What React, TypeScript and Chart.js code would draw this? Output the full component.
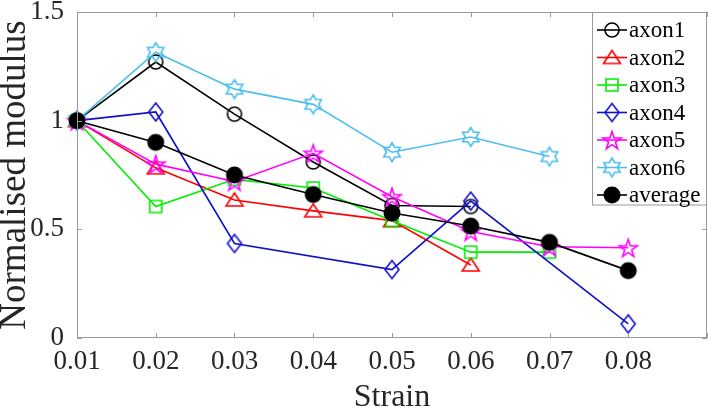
import React, { useEffect, useRef } from 'react';
import { Chart, registerables } from 'chart.js';
Chart.register(...registerables);

const strain = [0.01, 0.02, 0.03, 0.04, 0.05, 0.06, 0.07, 0.08];
const axon1 = [1.0, 1.27, 1.03, 0.81, 0.61, 0.605, null, null];
const axon2 = [1.0, 0.783, 0.635, 0.585, 0.54, 0.336, null, null];
const axon3 = [1.0, 0.605, 0.73, 0.69, 0.54, 0.395, 0.395, null];
const axon4 = [1.0, 1.04, 0.435, null, 0.315, 0.63, null, 0.065];
const axon5 = [1.0, 0.80, 0.72, 0.85, 0.65, 0.49, 0.42, 0.415];
const axon6 = [1.0, 1.315, 1.145, 1.075, 0.855, 0.925, 0.835, null];
const average = [1.0, 0.90, 0.75, 0.66, 0.575, 0.515, 0.44, 0.31];

const seriesNames = ['axon1', 'axon2', 'axon3', 'axon4', 'axon5', 'axon6', 'average'];
const seriesValues = [axon1, axon2, axon3, axon4, axon5, axon6, average];
const seriesColors = ['#000000', '#ff0000', '#00ee00', '#1010cc', '#ff00ff', '#4dbeee', '#000000'];
const seriesMarkers = ['circle', 'triangle', 'square', 'diamond', 'pentagram', 'hexagram', 'filled'];

const xMin = 0.01;
const xMax = 0.09;
const xStep = 0.01;
const xTickLabels = ['0.01', '0.02', '0.03', '0.04', '0.05', '0.06', '0.07', '0.08', ''];
const yMin = 0;
const yMax = 1.5;
const yStep = 0.5;
const yTickLabels = ['0', '0.5', '1', '1.5'];
const xTitle = 'Strain';
const yTitle = 'Normalised modulus';

const FONT = '"Liberation Serif", "Times New Roman", serif';
const AXIS_COLOR = '#9a9a9a';
const TEXT_COLOR = '#262626';

function makeMarker(kind: string, color: string): HTMLCanvasElement {
  const S = 26;
  const c = document.createElement('canvas');
  c.width = S;
  c.height = S;
  const g = c.getContext('2d')!;
  const m = S / 2;
  g.strokeStyle = color;
  g.fillStyle = color;
  g.lineWidth = 1.6;
  g.lineJoin = 'miter';
  g.beginPath();
  if (kind === 'circle') {
    g.arc(m, m, 7, 0, Math.PI * 2);
  } else if (kind === 'filled') {
    g.arc(m, m, 8.5, 0, Math.PI * 2);
  } else if (kind === 'triangle') {
    g.moveTo(m, m - 7);
    g.lineTo(m + 8.5, m + 6);
    g.lineTo(m - 8.5, m + 6);
    g.closePath();
  } else if (kind === 'square') {
    g.rect(m - 6, m - 6, 12, 12);
  } else if (kind === 'diamond') {
    g.moveTo(m, m - 9);
    g.lineTo(m + 7, m);
    g.lineTo(m, m + 9);
    g.lineTo(m - 7, m);
    g.closePath();
  } else if (kind === 'pentagram') {
    for (let i = 0; i < 10; i++) {
      const r = i % 2 ? 9.5 * 0.382 : 9.5;
      const a = -Math.PI / 2 + (i * Math.PI) / 5;
      const px = m + r * Math.cos(a);
      const py = m + 1 + r * Math.sin(a);
      if (i === 0) g.moveTo(px, py);
      else g.lineTo(px, py);
    }
    g.closePath();
  } else if (kind === 'hexagram') {
    for (let i = 0; i < 12; i++) {
      const r = i % 2 ? 9.5 * 0.577 : 9.5;
      const a = -Math.PI / 2 + (i * Math.PI) / 6;
      const px = m + r * Math.cos(a);
      const py = m + r * Math.sin(a);
      if (i === 0) g.moveTo(px, py);
      else g.lineTo(px, py);
    }
    g.closePath();
  }
  if (kind === 'filled') g.fill();
  else g.stroke();
  return c;
}

export default function App() {
  const ref = useRef<HTMLCanvasElement | null>(null);

  useEffect(() => {
    const canvas = ref.current;
    if (!canvas) return;
    const markers = seriesMarkers.map((k, i) => makeMarker(k, seriesColors[i]));

    const datasets = seriesNames.map((name, i) => ({
      label: name,
      data: strain
        .map((x, j) => ({ x, y: seriesValues[i][j] }))
        .filter((p) => p.y !== null),
      borderColor: seriesColors[i],
      backgroundColor: seriesColors[i],
      borderWidth: 1.6,
      pointStyle: markers[i],
      pointRadius: 5,
      showLine: true,
      clip: false as any,
      order: i === seriesNames.length - 1 ? 0 : seriesNames.length - 1 - i,
    }));

    const frameAndLegend = {
      id: 'frameAndLegend',
      afterDatasetsDraw(chart: any) {
        const { ctx, chartArea: a, scales } = chart;
        ctx.save();
        ctx.strokeStyle = AXIS_COLOR;
        ctx.lineWidth = 1;
        ctx.strokeRect(a.left + 0.5, a.top + 0.5, a.right - a.left - 1, a.bottom - a.top - 1);
        const tl = 5;
        ctx.beginPath();
        scales.x.ticks.forEach((t: any) => {
          const px = Math.round(scales.x.getPixelForValue(t.value)) + 0.5;
          ctx.moveTo(px, a.bottom);
          ctx.lineTo(px, a.bottom - tl);
          ctx.moveTo(px, a.top);
          ctx.lineTo(px, a.top + tl);
        });
        scales.y.ticks.forEach((t: any) => {
          const py = Math.round(scales.y.getPixelForValue(t.value)) + 0.5;
          ctx.moveTo(a.left, py);
          ctx.lineTo(a.left + tl, py);
          ctx.moveTo(a.right, py);
          ctx.lineTo(a.right - tl, py);
        });
        ctx.stroke();
        ctx.restore();
      },
      afterDraw(chart: any) {
        const { ctx, chartArea: a } = chart;
        const boxW = 115;
        const rowH = 27.5;
        const x0 = a.right - boxW;
        const y0 = a.top;
        const h = rowH * seriesNames.length;
        ctx.save();
        ctx.fillStyle = '#ffffff';
        ctx.fillRect(x0, y0, boxW, h);
        ctx.strokeStyle = AXIS_COLOR;
        ctx.lineWidth = 1;
        ctx.strokeRect(x0 + 0.5, y0 + 0.5, boxW - 1, h);
        ctx.font = `23px ${FONT}`;
        ctx.textBaseline = 'middle';
        ctx.textAlign = 'left';
        seriesNames.forEach((name, i) => {
          const cy = y0 + 18 + i * rowH;
          ctx.strokeStyle = seriesColors[i];
          ctx.lineWidth = 1.6;
          ctx.beginPath();
          ctx.moveTo(x0 + 5, cy);
          ctx.lineTo(x0 + 35, cy);
          ctx.stroke();
          const mk = markers[i];
          ctx.drawImage(mk, x0 + 20 - mk.width / 2, cy - mk.height / 2);
          ctx.fillStyle = '#000000';
          ctx.fillText(name, x0 + 37, cy + 1);
        });
        ctx.restore();
      },
    };

    const chart = new Chart(canvas, {
      type: 'scatter',
      data: { datasets: datasets as any },
      options: {
        responsive: false,
        animation: false,
        events: [],
        layout: { autoPadding: false, padding: { top: 0, left: 0, bottom: 0, right: 1 } },
        plugins: { legend: { display: false }, tooltip: { enabled: false } },
        scales: {
          x: {
            type: 'linear',
            min: xMin,
            max: xMax,
            grid: { display: false, drawTicks: false },
            border: { display: false },
            ticks: {
              stepSize: xStep,
              padding: 8,
              color: TEXT_COLOR,
              font: { family: FONT, size: 27 },
              maxRotation: 0,
              autoSkip: false,
              callback: (v: any, i: number) => xTickLabels[i] ?? '',
            },
            title: {
              display: true,
              text: xTitle,
              color: TEXT_COLOR,
              font: { family: FONT, size: 32, lineHeight: 1 },
              padding: { top: 0, bottom: -7 },
            },
            afterFit: (s: any) => {
              s.height = 69;
              s.paddingLeft = 0;
              s.paddingRight = 0;
            },
          },
          y: {
            type: 'linear',
            min: yMin,
            max: yMax,
            grid: { display: false, drawTicks: false },
            border: { display: false },
            ticks: {
              stepSize: yStep,
              padding: 13,
              color: TEXT_COLOR,
              font: { family: FONT, size: 27 },
              callback: (v: any, i: number) => yTickLabels[i] ?? '',
            },
            title: {
              display: true,
              text: yTitle,
              color: TEXT_COLOR,
              font: { family: FONT, size: 37, lineHeight: 1 },
              padding: { top: -3, bottom: 0 },
            },
            afterFit: (s: any) => {
              s.width = 77;
              s.paddingTop = 12;
              s.paddingBottom = 0;
            },
          },
        },
      },
      plugins: [frameAndLegend],
    });

    return () => chart.destroy();
  }, []);

  return (
    <div style={{ position: 'fixed', left: 0, top: 0, width: 708, height: 407, background: '#fff' }}>
      <canvas ref={ref} width={708} height={407} style={{ display: 'block' }} />
    </div>
  );
}
